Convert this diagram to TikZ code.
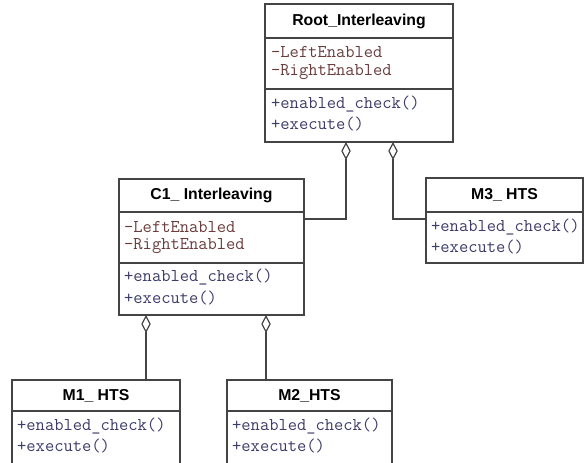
\documentclass[tikz,border=0pt]{standalone}
\usepackage{fontspec}
\newfontfamily\titlefont{Liberation Sans}
\newcommand{\memfont}{\ttfamily}
\usetikzlibrary{arrows.meta}
\definecolor{attrc}{HTML}{6A3C3C}
\definecolor{methc}{HTML}{3C3C6A}
\definecolor{linec}{HTML}{444444}
\begin{document}
\begin{tikzpicture}[x=1pt,y=-1pt,
  box/.style={draw=linec, line width=1.2pt, rectangle, inner sep=0pt, outer sep=0pt, anchor=north west, fill=white},
  ttl/.style={font=\titlefont\bfseries\fontsize{15.8}{18}\selectfont, text=black},
  attr/.style={font=\memfont\fontsize{18}{20}\selectfont, text=attrc, anchor=west, inner sep=0pt},
  meth/.style={font=\memfont\fontsize{18}{20}\selectfont, text=methc, anchor=west, inner sep=0pt},
  agg/.style={draw=linec, line width=1.2pt, {Diamond[open,length=18pt,width=9.5pt]}-}]
\fill[white] (0,0) rectangle (584,463);
\useasboundingbox (0,0) rectangle (584,463);

% Root_Interleaving
\node[box, ttl, minimum width=188pt, minimum height=34pt] (rootT) at (265,4) {Root\_Interleaving};
\node[box, minimum width=188pt, minimum height=51pt] (rootA) at (265,38) {};
\node[box, minimum width=188pt, minimum height=53pt] (rootM) at (265,89) {};
\node[attr] (rootA1) at (271,52.5) {-LeftEnabled};
\node[attr] (rootA2) at (271,72.5) {-RightEnabled};
\node[meth] (rootM1) at (271,104) {+enabled\_check()};
\node[meth] (rootM2) at (271,124) {+execute()};

% C1_ Interleaving
\node[box, ttl, minimum width=185pt, minimum height=33pt] (c1T) at (119,179) {C1\_ Interleaving};
\node[box, minimum width=185pt, minimum height=51pt] (c1A) at (119,212) {};
\node[box, minimum width=185pt, minimum height=52pt] (c1M) at (119,263) {};
\node[attr] (c1A1) at (124,226.5) {-LeftEnabled};
\node[attr] (c1A2) at (124,246.5) {-RightEnabled};
\node[meth] (c1M1) at (124,277.5) {+enabled\_check()};
\node[meth] (c1M2) at (124,297.5) {+execute()};

% M3_ HTS
\node[box, ttl, minimum width=157pt, minimum height=34pt] (m3T) at (426,178) {M3\_ HTS};
\node[box, minimum width=157pt, minimum height=51pt] (m3M) at (426,212) {};
\node[meth] (m3M1) at (431,227) {+enabled\_check()};
\node[meth] (m3M2) at (431,247) {+execute()};

% M1_ HTS
\node[box, ttl, minimum width=168pt, minimum height=31pt] (m1T) at (12,380) {M1\_ HTS};
\node[box, minimum width=168pt, minimum height=56pt] (m1M) at (12,411) {};
\node[meth] (m1M1) at (17,426) {+enabled\_check()};
\node[meth] (m1M2) at (17,446) {+execute()};

% M2_HTS
\node[box, ttl, minimum width=165pt, minimum height=31pt] (m2T) at (227,380) {M2\_HTS};
\node[box, minimum width=165pt, minimum height=56pt] (m2M) at (227,411) {};
\node[meth] (m2M1) at (232,426) {+enabled\_check()};
\node[meth] (m2M2) at (232,446) {+execute()};

% connectors
\coordinate (r1) at (346,142);
\coordinate (r2) at (393,142);
\coordinate (c1e) at (304,219);
\coordinate (m3w) at (426,219);
\coordinate (c1s1) at (146,315);
\coordinate (c1s2) at (266,315);
\coordinate (m1n) at (146,380);
\coordinate (m2n) at (266,380);
\draw[agg] (r1) |- (c1e);
\draw[agg] (r2) |- (m3w);
\draw[agg] (c1s1) -- (m1n);
\draw[agg] (c1s2) -- (m2n);
\end{tikzpicture}
\end{document}
